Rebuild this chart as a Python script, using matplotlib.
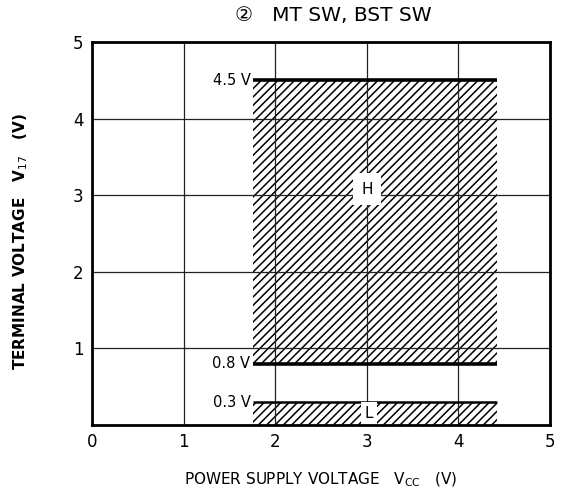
import matplotlib
matplotlib.use("Agg")
import matplotlib.pyplot as plt

plt.rcParams['font.family'] = ['DejaVu Sans', 'Noto Sans CJK JP']
plt.rcParams['hatch.linewidth'] = 1.1

# data
x_ticks = [0, 1, 2, 3, 4, 5]
y_ticks = [1, 2, 3, 4, 5]
vcc_range = [1.76, 4.42]
high_band = [0.8, 4.5]
low_band = [0.0, 0.3]
level_labels = ["4.5 V", "0.8 V", "0.3 V"]
level_values = [4.5, 0.8, 0.3]

fig = plt.figure(figsize=(5.62, 4.96), dpi=100)
ax = fig.add_axes([0.1637, 0.1431, 0.815, 0.7722])
ax.set_xlim(0, 5)
ax.set_ylim(0, 5)

ax.fill_between(vcc_range, high_band[0], high_band[1], facecolor='white',
                edgecolor='black', hatch='////', linewidth=0, zorder=2)
ax.fill_between(vcc_range, low_band[0], low_band[1], facecolor='white',
                edgecolor='black', hatch='////', linewidth=0, zorder=2)

ax.grid(True, color='#222222', linewidth=0.9, zorder=3)
ax.set_axisbelow(False)

lw = {4.5: 2.6, 0.8: 2.6, 0.3: 1.8}
for lab, v in zip(level_labels, level_values):
    ax.hlines(v, vcc_range[0], vcc_range[1], color='black', linewidth=lw[v], zorder=4)
    ax.text(vcc_range[0] - 0.03, v, lab, ha='right', va='center', fontsize=10.5, zorder=5)

ax.text(3.0, 3.08, "H", ha='center', va='center', fontsize=11, zorder=5,
        bbox=dict(boxstyle='square,pad=0.55', facecolor='white', edgecolor='none'))
ax.text(3.02, 0.15, "L", ha='center', va='center', fontsize=11, zorder=5,
        bbox=dict(boxstyle='square,pad=0.25', facecolor='white', edgecolor='none'))

ax.set_xticks(x_ticks)
ax.set_yticks(y_ticks)
ax.tick_params(length=0, labelsize=12, pad=6)
for s in ax.spines.values():
    s.set_linewidth(2)
    s.set_zorder(7)

ax.set_xlabel("POWER SUPPLY VOLTAGE   V$_{\\mathrm{CC}}$   (V)", fontsize=11, labelpad=14)
ax.set_ylabel("TERMINAL VOLTAGE   V$_{\\mathrm{17}}$   (V)", fontsize=11,
              fontweight='bold', labelpad=31)
ax.yaxis.label.set_y(0.48)
fig.text(0.593, 0.968, "\u2461   MT SW, BST SW", ha='center', va='center', fontsize=14.5)

fig.savefig("out.png", dpi=100)
